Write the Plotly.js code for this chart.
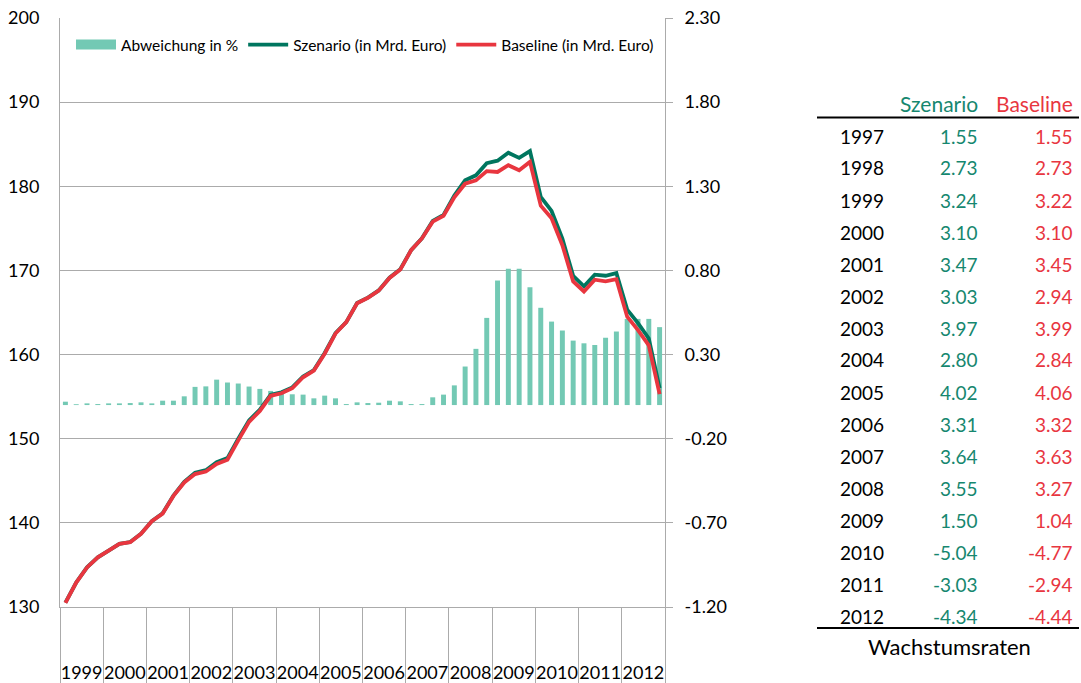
<!DOCTYPE html>
<html>
<head>
<meta charset="utf-8">
<script src="https://cdn.plot.ly/plotly-3.0.1.min.js"></script>
<style>
html,body{margin:0;padding:0;background:#fff;}
#chart{width:1081px;height:683px;}
</style>
</head>
<body>
<div id="chart"></div>
<script>
// ---- data ----
var years = ["1999","2000","2001","2002","2003","2004","2005","2006","2007","2008","2009","2010","2011","2012"];
var quarterIndex = [0,1,2,3,4,5,6,7,8,9,10,11,12,13,14,15,16,17,18,19,20,21,22,23,24,25,26,27,
  28,29,30,31,32,33,34,35,36,37,38,39,40,41,42,43,44,45,46,47,48,49,50,51,52,53,54,55];
var abweichung = [0.02,0.005,0.01,0.006,0.01,0.01,0.012,0.016,0.01,0.026,0.026,0.052,
  0.108,0.111,0.151,0.134,0.128,0.11,0.096,0.084,0.07,0.064,0.062,0.04,
  0.056,0.04,0.006,0.016,0.012,0.014,0.026,0.022,0.006,0.006,0.046,0.062,
  0.117,0.229,0.334,0.518,0.74,0.81,0.81,0.70,0.578,0.496,0.443,0.383,
  0.367,0.357,0.40,0.437,0.512,0.512,0.512,0.463];
var szenario = [130.53,132.91,134.71,135.91,136.71,137.51,137.72,138.72,140.21,141.14,143.24,144.88,
  145.96,146.26,147.22,147.70,149.99,152.17,153.45,155.23,155.51,156.10,157.40,158.16,
  160.19,162.56,163.86,166.13,166.77,167.62,169.14,170.14,172.41,173.81,175.88,176.61,
  178.91,180.71,181.30,182.74,183.04,183.98,183.37,184.18,178.73,177.07,173.77,169.35,
  168.11,169.50,169.37,169.69,165.34,163.73,161.92,156.02];
var baseline = [130.5,132.9,134.7,135.9,136.7,137.5,137.7,138.7,140.2,141.1,143.2,144.8,
  145.8,146.1,147.0,147.5,149.8,152.0,153.3,155.1,155.4,156.0,157.3,158.1,
  160.1,162.5,163.85,166.1,166.75,167.6,169.1,170.1,172.4,173.8,175.8,176.5,
  178.7,180.3,180.7,181.8,181.7,182.5,181.9,182.9,177.7,176.2,173.0,168.7,
  167.5,168.9,168.7,168.95,164.5,162.9,161.1,155.3];
var leftTicks = [130,140,150,160,170,180,190,200];
var rightTicks = [-1.2,-0.7,-0.2,0.3,0.8,1.3,1.8,2.3];
var rightTickText = ["-1.20","-0.70","-0.20","0.30","0.80","1.30","1.80","2.30"];

var tableYears = ["1997","1998","1999","2000","2001","2002","2003","2004","2005","2006","2007","2008","2009","2010","2011","2012"];
var tableSzenario = ["1.55","2.73","3.24","3.10","3.47","3.03","3.97","2.80","4.02","3.31","3.64","3.55","1.50","-5.04","-3.03","-4.34"];
var tableBaseline = ["1.55","2.73","3.22","3.10","3.45","2.94","3.99","2.84","4.06","3.32","3.63","3.27","1.04","-4.77","-2.94","-4.44"];

// ---- styling ----
var FONT = "Lato, 'Open Sans', sans-serif";
var GRID = "#ABABAB";
var BAR = "#73C9B4";
var GREEN_LINE = "#00765F";
var RED_LINE = "#E8363F";
var GREEN_TXT = "#16876F";
var RED_TXT = "#E8363F";

var yearCenters = years.map(function(_, i){ return i*4 + 1.5; });

// pixel -> paper helpers (plot area: x 60..665, y 18..607)
function px(x){ return (x - 60) / 605; }
function py(y){ return (607 - y) / 589; }

var traces = [
  {type:"bar", x:quarterIndex, y:abweichung, yaxis:"y", name:"Abweichung in %",
   marker:{color:BAR}, width:0.46, showlegend:false, legendgroup:"abw"},
  {type:"scatter", mode:"lines", x:[null], y:[null], yaxis:"y2", name:"Abweichung in %",
   line:{color:BAR, width:10}, legendgroup:"abw", hoverinfo:"skip"},
  {type:"scatter", mode:"lines", x:quarterIndex, y:szenario, yaxis:"y2",
   name:"Szenario (in Mrd. Euro)", line:{color:GREEN_LINE, width:3.8}},
  {type:"scatter", mode:"lines", x:quarterIndex, y:baseline, yaxis:"y2",
   name:"Baseline (in Mrd. Euro)", line:{color:RED_LINE, width:3.8}}
];

var annotations = [];
var hdrY = py(103);
annotations.push({xref:"paper", yref:"paper", x:px(980), y:hdrY, xanchor:"right", yanchor:"middle",
  text:"Szenario", showarrow:false, font:{family:FONT, size:21, color:GREEN_TXT}});
annotations.push({xref:"paper", yref:"paper", x:px(1075), y:hdrY, xanchor:"right", yanchor:"middle",
  text:"Baseline", showarrow:false, font:{family:FONT, size:21, color:RED_TXT}});
for (var i = 0; i < tableYears.length; i++) {
  var ry = py(136 + i*32);
  annotations.push({xref:"paper", yref:"paper", x:px(838), y:ry, xanchor:"left", yanchor:"middle",
    text:tableYears[i], showarrow:false, font:{family:FONT, size:19, color:"#000"}});
  annotations.push({xref:"paper", yref:"paper", x:px(980), y:ry, xanchor:"right", yanchor:"middle",
    text:tableSzenario[i], showarrow:false, font:{family:FONT, size:19, color:GREEN_TXT}});
  annotations.push({xref:"paper", yref:"paper", x:px(1075), y:ry, xanchor:"right", yanchor:"middle",
    text:tableBaseline[i], showarrow:false, font:{family:FONT, size:19, color:RED_TXT}});
}
annotations.push({xref:"paper", yref:"paper", x:px(949), y:py(646), xanchor:"center", yanchor:"middle",
  text:"Wachstumsraten", showarrow:false, font:{family:FONT, size:22, color:"#000"}});

var shapes = [
  {type:"line", xref:"paper", yref:"paper", x0:px(817), x1:px(1079), y0:py(117.5), y1:py(117.5),
   line:{color:"#000", width:2}},
  {type:"line", xref:"paper", yref:"paper", x0:px(817), x1:px(1079), y0:py(628), y1:py(628),
   line:{color:"#000", width:2}}
];

var layout = {
  width:1081, height:683,
  margin:{l:60, r:416, t:18, b:76, pad:0},
  paper_bgcolor:"#fff", plot_bgcolor:"#fff",
  font:{family:FONT, size:17, color:"#000"},
  showlegend:true,
  legend:{orientation:"h", x:px(71), y:py(45), xanchor:"left", yanchor:"middle",
    font:{family:FONT, size:15.5, color:"#000"}, bgcolor:"rgba(0,0,0,0)",
    itemwidth:40, tracegroupgap:0, itemclick:false},
  bargap:0.5,
  xaxis:{range:[-0.5,55.5], tickmode:"array", tickvals:yearCenters, ticktext:years,
    ticks:"", tickangle:0, showline:true, linecolor:GRID, linewidth:1, showgrid:false, zeroline:false,
    tickfont:{family:FONT, size:18}, ticklabelstandoff:49,
    minor:{ticks:"outside", tickmode:"linear", tick0:-0.5, dtick:4, ticklen:80, tickcolor:GRID, tickwidth:1, showgrid:false},
    fixedrange:true},
  yaxis:{side:"right", range:[-1.2,2.3], tickmode:"array", tickvals:rightTicks, ticktext:rightTickText,
    showgrid:true, gridcolor:GRID, gridwidth:1, zeroline:false, showline:true, linecolor:GRID,
    ticks:"outside", ticklen:7, tickcolor:GRID, tickfont:{family:FONT, size:18},
    ticklabelstandoff:8, fixedrange:true},
  yaxis2:{side:"left", overlaying:"y", range:[130,200], tickmode:"array", tickvals:leftTicks,
    showgrid:false, zeroline:false, showline:true, linecolor:GRID, ticks:"",
    tickfont:{family:FONT, size:18}, ticklabelstandoff:16, fixedrange:true},
  annotations:annotations,
  shapes:shapes
};

Plotly.newPlot("chart", traces, layout, {displayModeBar:false, staticPlot:true});
</script>
</body>
</html>
